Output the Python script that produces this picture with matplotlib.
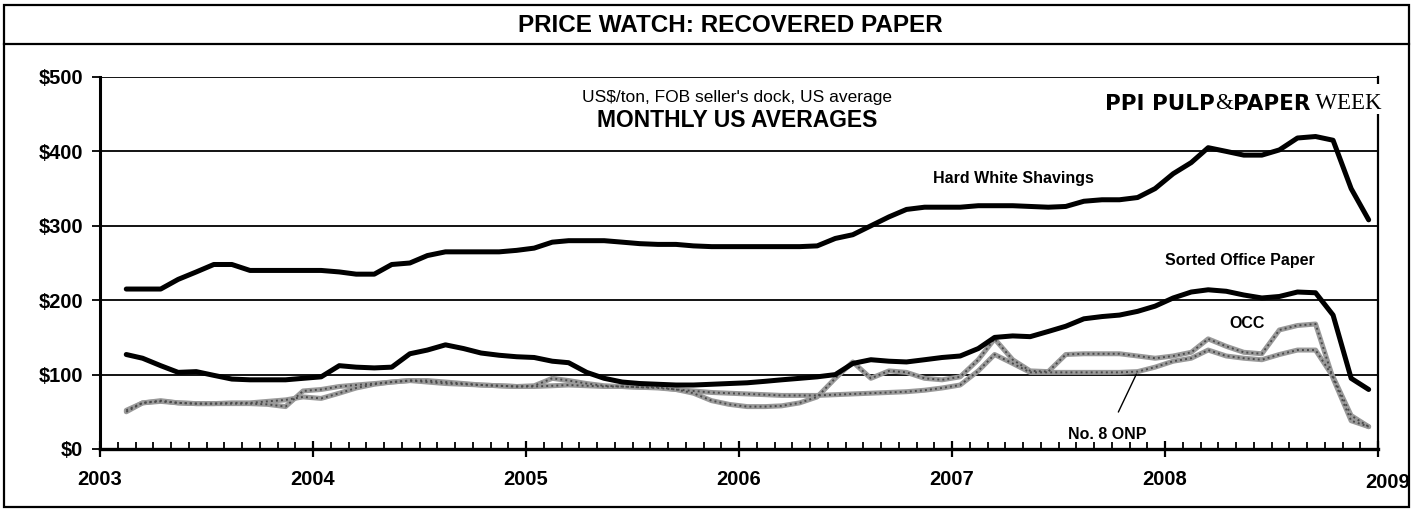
import matplotlib
matplotlib.use("Agg")
import matplotlib.pyplot as plt
from matplotlib.patches import Rectangle
from matplotlib.lines import Line2D
from matplotlib.ticker import FixedLocator, MultipleLocator
import pandas as pd

# monthly averages, Feb 2003 .. Dec 2008 (US$/ton)
months = pd.date_range("2003-02-01", "2008-12-01", freq="MS")

hard_white = [215, 215, 215, 228, 238, 248, 248, 240, 240, 240, 240,
              240, 238, 235, 235, 248, 250, 260, 265, 265, 265, 265, 267,
              270, 278, 280, 280, 280, 278, 276, 275, 275, 273, 272, 272,
              272, 272, 272, 272, 273, 283, 288, 300, 312, 322, 325, 325,
              325, 327, 327, 327, 326, 325, 326, 333, 335, 335, 338, 350,
              370, 385, 405, 400, 395, 395, 402, 418, 420, 415, 350, 308]

sorted_office = [127, 122, 112, 103, 104, 99, 94, 93, 93, 93, 95,
                 97, 112, 110, 109, 110, 128, 133, 140, 135, 129, 126, 124,
                 123, 118, 116, 103, 95, 90, 88, 87, 86, 86, 87, 88,
                 89, 91, 93, 95, 97, 100, 115, 120, 118, 117, 120, 123,
                 125, 135, 150, 152, 151, 158, 165, 175, 178, 180, 185, 192,
                 203, 211, 214, 212, 207, 203, 205, 211, 210, 180, 95, 80]

occ = [50, 62, 64, 62, 61, 61, 61, 61, 60, 57, 78,
       80, 84, 86, 88, 90, 92, 90, 88, 87, 86, 85, 84,
       85, 95, 92, 88, 85, 84, 83, 83, 80, 75, 65, 60,
       57, 57, 58, 62, 70, 95, 117, 95, 105, 103, 95, 93,
       97, 120, 148, 120, 105, 104, 127, 128, 128, 128, 125, 122,
       125, 130, 148, 138, 130, 128, 160, 166, 168, 95, 38, 30]

onp8 = [52, 62, 65, 62, 61, 61, 62, 62, 64, 66, 70,
        68, 75, 82, 87, 90, 92, 92, 90, 88, 86, 85, 84,
        84, 85, 86, 85, 84, 84, 83, 82, 80, 78, 76, 75,
        74, 73, 72, 72, 72, 73, 74, 75, 76, 77, 79, 82,
        86, 105, 127, 115, 103, 103, 103, 103, 103, 103, 104, 110,
        118, 122, 133, 125, 122, 120, 127, 133, 133, 97, 45, 30]

years = [2003, 2004, 2005, 2006, 2007, 2008, 2009]
y_ticks = [0, 100, 200, 300, 400, 500]

W, H = 1416, 512


def fx(px):
    return px / W


def fy(py):
    return 1 - py / H


# plot at mid-month, in decimal years
mid = months + pd.Timedelta(days=14)
t = mid.year + (mid.dayofyear - 1) / 365.0

plt.rcParams["font.family"] = ["Liberation Sans", "DejaVu Sans"]

fig = plt.figure(figsize=(W / 100, H / 100), dpi=100)
ax = fig.add_axes([fx(100), fy(449), fx(1378) - fx(100), fy(77) - fy(449)])

# outer frame + title band
fig.patches.append(Rectangle((fx(4), fy(507)), fx(1409) - fx(4), fy(5) - fy(507),
                             transform=fig.transFigure, fill=False, lw=1.6,
                             edgecolor="black"))
fig.lines.append(Line2D([fx(4), fx(1409)], [fy(44), fy(44)],
                        transform=fig.transFigure, color="black", lw=1.6))
fig.text(fx(730), fy(26), "PRICE WATCH: RECOVERED PAPER", ha="center", va="center",
         fontsize=17.5, fontweight="bold")

# series
for vals in (occ, onp8):
    ax.plot(t, vals, color="#9a9a9a", lw=3.6, solid_capstyle="round", zorder=3)
    ax.plot(t, vals, color="#4a4a4a", lw=1.4, ls=(0, (1, 1.6)), zorder=3.1)
ax.plot(t, sorted_office, color="black", lw=3.6, solid_capstyle="round",
        solid_joinstyle="round", zorder=4)
ax.plot(t, hard_white, color="black", lw=3.6, solid_capstyle="round",
        solid_joinstyle="round", zorder=4)

ax.set_xlim(2003, 2009)
ax.set_ylim(0, 500)

ax.yaxis.set_major_locator(FixedLocator(y_ticks))
ax.set_yticklabels([f"${v}" for v in y_ticks], fontsize=14.5, fontweight="bold")
ax.grid(axis="y", color="black", lw=1.3)
ax.set_axisbelow(True)

ax.xaxis.set_major_locator(FixedLocator(years))
ax.xaxis.set_minor_locator(MultipleLocator(1 / 12))
ax.set_xticklabels([str(y) for y in years[:-1]] + [""], fontsize=14.5, fontweight="bold")
ax.tick_params(axis="x", which="major", direction="inout", length=12, width=1.6, pad=9)
ax.tick_params(axis="x", which="minor", direction="in", length=5, width=1.3)
ax.tick_params(axis="y", direction="out", length=6, width=1.3, pad=6)
ax.annotate(str(years[-1]), xy=(years[-1], 0), xycoords="data",
            xytext=(10, -33), textcoords="offset pixels",
            ha="center", va="center", fontsize=14.5, fontweight="bold",
            annotation_clip=False)

ax.spines["top"].set_visible(False)
ax.spines["left"].set_linewidth(2.2)
ax.spines["bottom"].set_linewidth(2.4)
ax.spines["right"].set_linewidth(1.6)

# text inside the chart
ax.text(2005.99, 473, "US$/ton, FOB seller's dock, US average", ha="center",
        va="center", fontsize=12.5)
ax.text(2005.99, 442, "MONTHLY US AVERAGES", ha="center", va="center",
        fontsize=16.5, fontweight="bold")
ax.text(2007.29, 364, "Hard White Shavings", ha="center", va="center",
        fontsize=11.5, fontweight="bold")
ax.text(2008.35, 254, "Sorted Office Paper", ha="center", va="center",
        fontsize=11.5, fontweight="bold")
ax.text(2008.385, 169, "OCC", ha="center", va="center", fontsize=11.5,
        fontweight="bold")
ax.annotate("No. 8 ONP", xy=(t[57], onp8[57]), xytext=(2007.73, 19),
            ha="center", va="center", fontsize=11.5, fontweight="bold",
            arrowprops=dict(arrowstyle="-", lw=1.0, color="black",
                            shrinkA=10, shrinkB=2))

# publisher logo, white box hides the frame behind it
ax.add_patch(Rectangle((1100, H - 114), 288, 30, transform=None,
                       facecolor="white", edgecolor="none", zorder=5,
                       clip_on=False))
p1 = ax.annotate("PPI PULP", xy=(1105, H - 110), xycoords="figure pixels",
                 ha="left", va="baseline", fontsize=15.5, fontweight="heavy",
                 family="DejaVu Sans", zorder=6, annotation_clip=False)
p2 = ax.annotate("&", xy=(1, 0), xycoords=p1, ha="left", va="bottom",
                 fontsize=16.5, family="Liberation Serif", zorder=6,
                 annotation_clip=False)
p3 = ax.annotate("PAPER", xy=(1, 0), xycoords=p2, ha="left", va="bottom",
                 fontsize=15.5, fontweight="heavy", family="DejaVu Sans", zorder=6,
                 annotation_clip=False)
ax.annotate(" WEEK", xy=(1, 0), xycoords=p3, ha="left", va="bottom",
            fontsize=16.5, family="Liberation Serif", zorder=6,
            annotation_clip=False)

fig.savefig("out.png", dpi=100)
